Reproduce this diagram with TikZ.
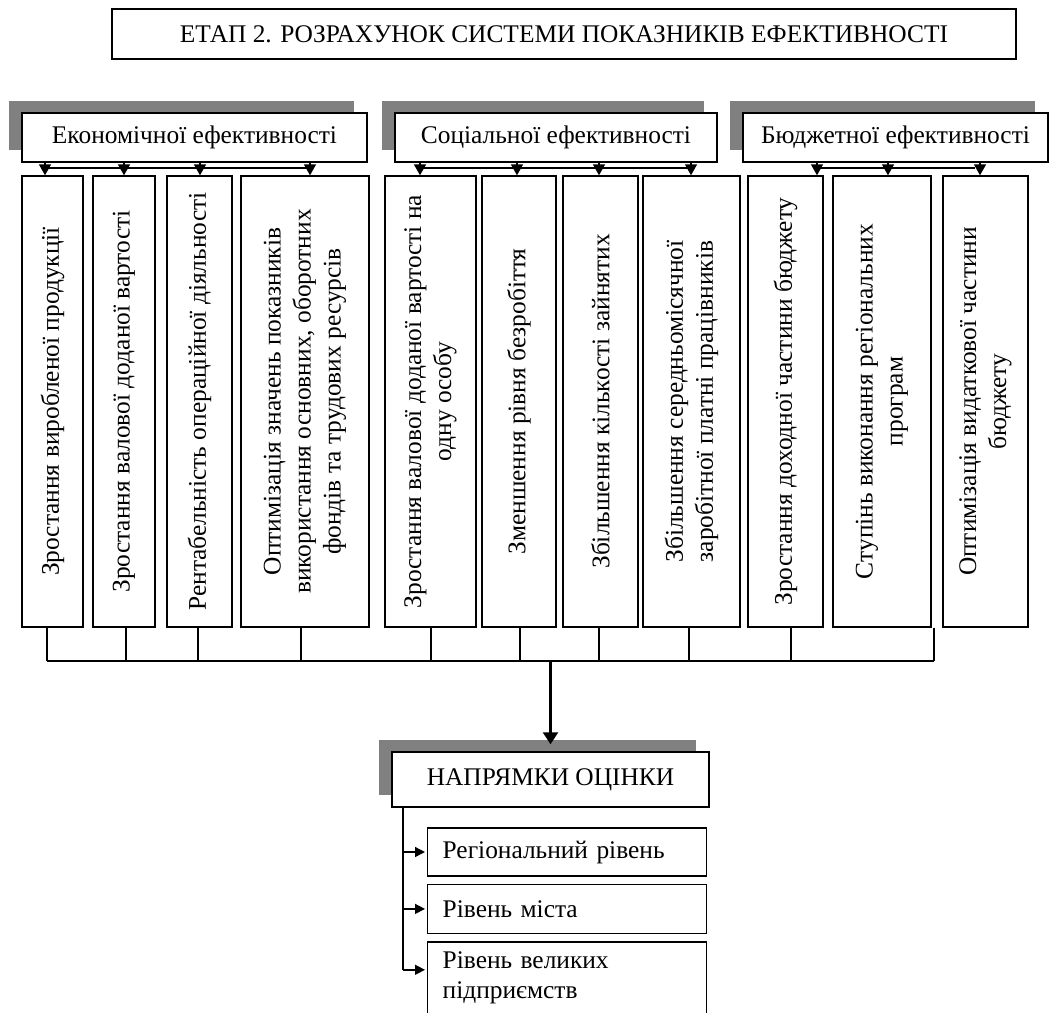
\documentclass[tikz,border=0pt]{standalone}
\usepackage{fontspec}
\setmainfont{Liberation Serif}
\usetikzlibrary{arrows.meta, positioning, shadows}
\definecolor{shadowgray}{gray}{0.5}
\tikzstyle{block} = [draw, fill=white, rectangle, line width=0.7pt]
\tikzstyle{head} = [block, minimum height=24.5pt,
    general shadow={fill=shadowgray, shadow xshift=-6.5pt, shadow yshift=6pt}]
\tikzstyle{bar} = [block, rotate=90, align=center, minimum width=225.5pt, inner sep=2pt]
\tikzstyle{level} = [block, align=left, text width=124.5pt, inner xsep=7.5pt, inner ysep=2pt, anchor=west]
\tikzstyle{link} = [line width=0.7pt]
\tikzstyle{side} = [link, -{Triangle[length=5pt,width=5pt]}, shorten >=1pt]
\tikzstyle{main} = [line width=1.1pt, -{Triangle[length=6pt,width=7.5pt]}]

\begin{document}
\begin{tikzpicture}[x=0.5pt, y=-0.5pt, >={Triangle[length=5.5pt,width=6pt]},
    font=\fontsize{12.7}{15}\selectfont]
    \useasboundingbox (0,0) rectangle (1049,1012);
    \node [block, minimum width=452pt, minimum height=25pt] (stage) at (564,34)
        {ЕТАП 2. РОЗРАХУНОК СИСТЕМИ ПОКАЗНИКІВ ЕФЕКТИВНОСТІ};

    \node [head, minimum width=172.5pt] (hE) at (194.5,137.5) {Економічної ефективності};
    \node [head, minimum width=161pt] (hS) at (556,137.5) {Соціальної ефективності};
    \node [head, minimum width=152.5pt] (hB) at (895.5,137.5) {Бюджетної ефективності};

    \node [bar, minimum height=30.5pt] (e1) at (52.5,401.5) {Зростання виробленої продукції};
    \node [bar, minimum height=31pt] (e2) at (124,401.5) {Зростання валової доданої вартості};
    \node [bar, minimum height=32.5pt] (e3) at (199.5,401.5) {Рентабельність операційної діяльності};
    \node [bar, minimum height=64pt] (e4) at (305,401.5) {Оптимізація значень показників\\
        використання основних, оборотних\\ фондів та трудових ресурсів};
    \node [bar, minimum height=45.5pt] (s1) at (430.5,401.5) {Зростання валової доданої вартості на\\ одну особу};
    \node [bar, minimum height=37pt] (s2) at (519,401.5) {Зменшення рівня безробіття};
    \node [bar, minimum height=37.5pt] (s3) at (600.5,401.5) {Збільшення кількості зайнятих};
    \node [bar, minimum height=48.5pt] (s4) at (691.5,401.5) {Збільшення середньомісячної\\ заробітної платні працівників};
    \node [bar, minimum height=37.5pt] (b1) at (785.5,401.5) {Зростання доходної частини бюджету};
    \node [bar, minimum height=49pt] (b2) at (882,401.5) {Ступінь виконання регіональних\\ програм};
    \node [bar, minimum height=42.5pt] (b3) at (985.5,401.5) {Оптимізація видаткової частини\\ бюджету};

    \coordinate (row) at (0,168);
    \draw [link] (row -| 45,0) -- (row -| 310,0);
    \draw [link] (row -| 420,0) -- (row -| 691,0);
    \draw [link] (row -| 817,0) -- (row -| 975,0);
    \foreach \n/\x in {e1/45, e2/124, e3/200, e4/310}
        \draw [->, link] (hE.south -| \x,0) -- (\n.east -| \x,0);
    \foreach \n/\x in {s1/420, s2/517, s3/599, s4/691}
        \draw [->, link] (hS.south -| \x,0) -- (\n.east -| \x,0);
    \foreach \n/\x in {b1/817, b2/888, b3/980}
        \draw [->, link] (hB.south -| \x,0) -- (\n.east -| \x,0);

    \node [head, minimum width=158.5pt, minimum height=27.5pt] (dir) at (550.5,779.5) {НАПРЯМКИ ОЦІНКИ};
    \node [level, minimum height=24pt] (r1) at (427,852) {Регіональний рівень};
    \node [level, minimum height=24.5pt, below=3.5pt of r1] (r2) {Рівень міста};
    \node [level, minimum height=36pt, below=3.5pt of r2] (r3) {Рівень великих\\ підприємств};

    \coordinate (bus) at (47,661);
    \draw [link] (bus) -- (bus -| 934,0);
    \foreach \n/\x in {e1/47, e2/126, e3/198, e4/301, s1/431, s2/520, s3/599, s4/689, b1/791, b2/934}
        \draw [link] (\n.west -| \x,0) -- (bus -| \x,0);
    \draw [main] (bus -| dir.north) -- ([yshift=3.5pt]dir.north);

    \coordinate (r3in) at ([yshift=4pt]r3.west);
    \draw [link] (dir.south -| 403,0) -- (r3in -| 403,0);
    \foreach \n in {r1, r2, r3in}
        \draw [side] (\n -| 403,0) -- (\n);
\end{tikzpicture}
\end{document}
